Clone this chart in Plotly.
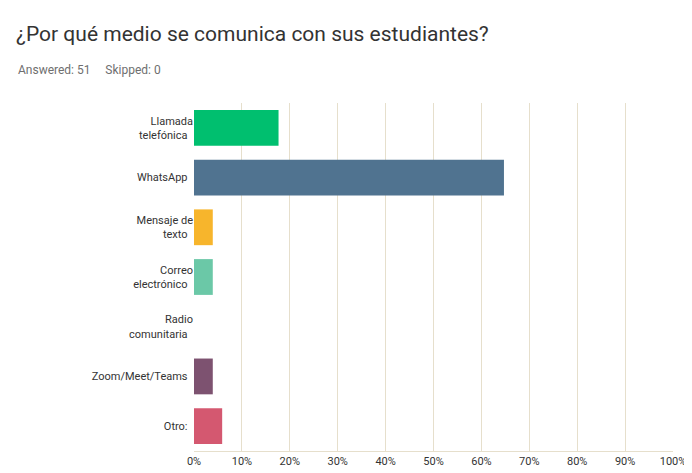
import plotly.graph_objects as go

categories = ["Llamada<br>telefónica", "WhatsApp", "Mensaje de<br>texto", "Correo<br>electrónico",
              "Radio<br>comunitaria", "Zoom/Meet/Teams", "Otro:"]
values = [17.65, 64.71, 3.92, 3.92, 0.0, 3.92, 5.88]
colors = ["#00BF6F", "#507390", "#F7B52C", "#6BC8A7", "#9E9E9E", "#7D5270", "#D45870"]
tick_vals = [0, 10, 20, 30, 40, 50, 60, 70, 80, 90, 100]
tick_text = [f"{v}%" for v in tick_vals]

fig = go.Figure(go.Bar(
    x=values, y=categories, orientation="h",
    marker=dict(color=colors, line=dict(width=0)),
))

fig.update_layout(
    width=692, height=473,
    margin=dict(l=186, r=27, t=95, b=30, autoexpand=False),
    paper_bgcolor="white", plot_bgcolor="white",
    font=dict(family="Roboto", size=11, color="#333333"),
    bargap=0.28,
    showlegend=False,
    xaxis=dict(range=[0, 100], tickvals=tick_vals, ticktext=tick_text,
               showgrid=True, gridcolor="#E6DFCC", gridwidth=1,
               zeroline=False, showline=True, linecolor="#E6DFCC",
               ticks="", fixedrange=True, automargin=False),
    yaxis=dict(autorange="reversed", ticks="", showline=False, showgrid=False,
               ticksuffix="  ", automargin=False),
    annotations=[
        dict(text="¿Por qué medio se comunica con sus estudiantes?", x=6, y=473 - 26,
             xref="paper", yref="paper", showarrow=False, font=dict(size=21, color="#333333")),
        dict(text="Answered: 51&nbsp;&nbsp;&nbsp;&nbsp;&nbsp;Skipped: 0", x=8, y=473 - 62,
             xref="paper", yref="paper", showarrow=False, font=dict(size=12, color="#6F6F6F")),
    ],
)
# convert pixel annotation positions to paper coordinates
pw, ph = 692 - 186 - 27, 473 - 95 - 30
for a in fig.layout.annotations:
    a.x = (a.x - 186) / pw
    a.y = (a.y - 30) / ph
    a.xanchor = "left"
    a.yanchor = "middle"

fig.write_html("out.html")
